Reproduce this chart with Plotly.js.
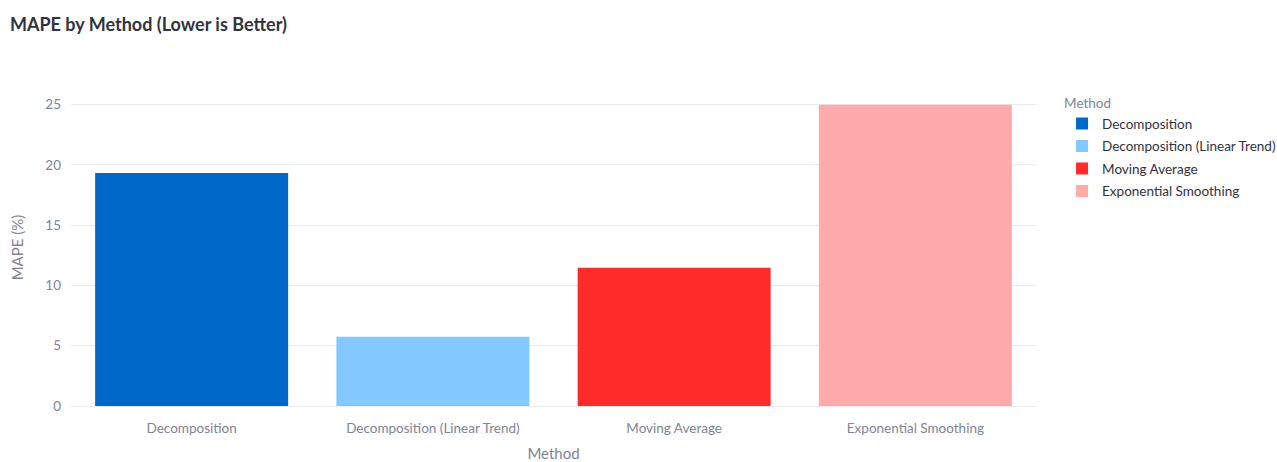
<!DOCTYPE html>
<html>
<head>
<meta charset="utf-8">
<script src="https://cdn.plot.ly/plotly-3.0.1.min.js"></script>
<style>html,body{margin:0;padding:0;background:#fff;}#chart{width:1277px;height:462px;}</style>
</head>
<body>
<div id="chart"></div>
<script>
const methods = ["Decomposition", "Decomposition (Linear Trend)", "Moving Average", "Exponential Smoothing"];
const mape = [19.34, 5.74, 11.46, 25.0];
const colors = ["#0068C9", "#83C9FF", "#FF2B2B", "#FFABAB"];

const FONT = '"Source Sans Pro", Lato, sans-serif';
const traces = methods.map((m, i) => ({
  type: "bar",
  name: m,
  x: [m],
  y: [mape[i]],
  marker: {color: colors[i]},
  legendgroup: m,
  showlegend: true
}));

const layout = {
  width: 1277, height: 462,
  barmode: "relative",
  bargap: 0.2,
  font: {family: FONT, color: "#31333F", size: 13.5},
  paper_bgcolor: "#ffffff",
  plot_bgcolor: "#ffffff",
  margin: {l: 70.5, r: 240.5, t: 89, b: 55.5, autoexpand: false},
  title: {text: "<b>MAPE by Method (Lower is Better)</b>", x: 0.0078, xref: "container", xanchor: "left", y: 0.946, yref: "container", yanchor: "middle", font: {size: 18, color: "#31333F", family: FONT}},
  xaxis: {
    title: {text: "Method", font: {size: 15, color: "#808495"}, standoff: 14},
    tickfont: {size: 13.5, color: "#808495"},
    ticklabelstandoff: 12,
    categoryorder: "array", categoryarray: methods,
    showgrid: false, zeroline: false, showline: false
  },
  yaxis: {
    title: {text: "MAPE (%)", font: {size: 15, color: "#808495"}, standoff: 18},
    tickfont: {size: 13.5, color: "#808495"},
    ticklabelstandoff: 9,
    gridcolor: "#e6eaf1", zeroline: true, zerolinecolor: "#e6eaf1",
    range: [0, 26.3], dtick: 5
  },
  legend: {
    title: {text: "Method", font: {size: 13.5, color: "#808495"}},
    font: {size: 13.5, color: "#31333F"},
    x: 1.027, y: 0.995, xanchor: "left", yanchor: "top",
    tracegroupgap: 2
  }
};

Plotly.newPlot("chart", traces, layout, {displayModeBar: false});
</script>
</body>
</html>
